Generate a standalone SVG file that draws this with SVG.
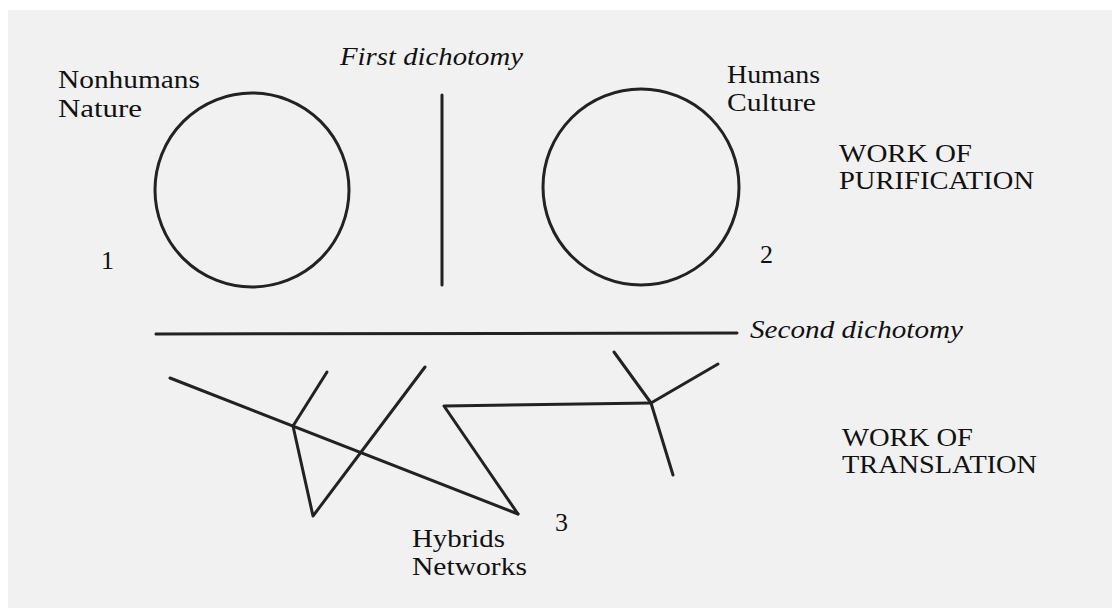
<svg xmlns="http://www.w3.org/2000/svg" width="1112" height="608" viewBox="0 0 1112 608">
<style>
.t{font-family:"Liberation Serif","DejaVu Serif",serif;font-size:26px;fill:#111}
.i{font-style:italic}
.ln{stroke:#222;stroke-width:3;fill:none;stroke-linecap:round;stroke-linejoin:round}
</style>
<rect width="1112" height="608" fill="#ffffff"/>
<rect x="8" y="10" width="1104" height="598" fill="#f1f1f1"/>
<g id="node-nature">
<circle class="ln" cx="252" cy="190" r="97"/>
<text class="t" x="58" y="88" textLength="142" lengthAdjust="spacingAndGlyphs">Nonhumans</text>
<text class="t" x="58" y="117" textLength="84" lengthAdjust="spacingAndGlyphs">Nature</text>
<text class="t" x="101" y="269">1</text>
</g>
<g id="node-culture">
<circle class="ln" cx="641" cy="187" r="98"/>
<text class="t" x="727" y="83" textLength="93" lengthAdjust="spacingAndGlyphs">Humans</text>
<text class="t" x="727" y="111" textLength="89" lengthAdjust="spacingAndGlyphs">Culture</text>
<text class="t" x="760" y="263">2</text>
</g>
<g id="node-first-dichotomy">
<line class="ln" x1="442" y1="95" x2="442" y2="285"/>
<text class="t i" x="340" y="65" textLength="183" lengthAdjust="spacingAndGlyphs">First dichotomy</text>
</g>
<g id="node-second-dichotomy">
<line class="ln" x1="156" y1="334" x2="737" y2="333"/>
<text class="t i" x="750" y="338" textLength="213" lengthAdjust="spacingAndGlyphs">Second dichotomy</text>
</g>
<g id="node-purification">
<text class="t" x="839" y="162" textLength="133" lengthAdjust="spacingAndGlyphs">WORK OF</text>
<text class="t" x="839" y="189" textLength="195" lengthAdjust="spacingAndGlyphs">PURIFICATION</text>
</g>
<g id="node-translation">
<text class="t" x="842" y="446" textLength="131" lengthAdjust="spacingAndGlyphs">WORK OF</text>
<text class="t" x="842" y="473" textLength="195" lengthAdjust="spacingAndGlyphs">TRANSLATION</text>
</g>
<g id="node-hybrids">
<text class="t" x="412" y="547" textLength="93" lengthAdjust="spacingAndGlyphs">Hybrids</text>
<text class="t" x="412" y="575" textLength="115" lengthAdjust="spacingAndGlyphs">Networks</text>
<text class="t" x="555" y="531">3</text>
</g>
<g id="connectors">
<line class="ln" x1="170" y1="378" x2="518" y2="514"/>
<line class="ln" x1="293" y1="426" x2="327" y2="372"/>
<polyline class="ln" points="293,426 313,516 425,367"/>
<polyline class="ln" points="518,514 444,406 651,403"/>
<line class="ln" x1="651" y1="403" x2="614" y2="352"/>
<line class="ln" x1="651" y1="403" x2="718" y2="364"/>
<line class="ln" x1="651" y1="403" x2="673" y2="475"/>
</g>
</svg>
